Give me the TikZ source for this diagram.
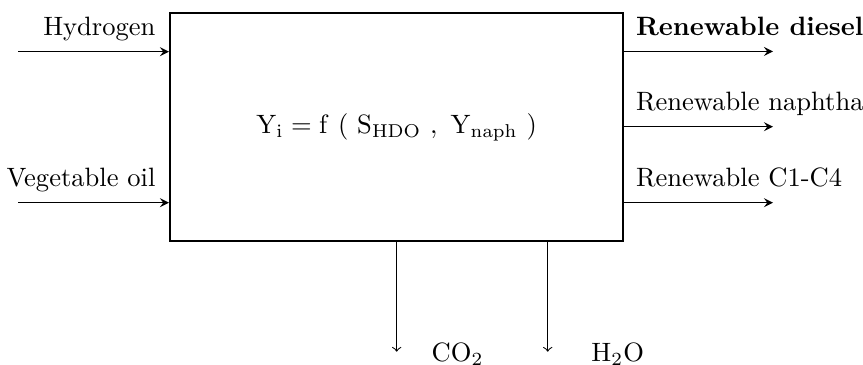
\documentclass[tikz,border=0pt]{standalone}
\usetikzlibrary{arrows,positioning,calc}
\tikzset{
  blk/.style={rectangle,draw,line width=0.8pt,minimum width=6.003cm,minimum height=3.016cm,align=center},
  arr/.style={-stealth,line width=0.5pt},
  darr/.style={->,line width=0.4pt},
  inlbl/.style={anchor=base east,inner sep=0pt,xshift=-4.9pt,yshift=6.1pt},
  outlbl/.style={anchor=base west,inner sep=0pt,xshift=4.2pt,yshift=6.2pt},
  botlbl/.style={anchor=base west,inner sep=0pt,yshift=-3.8pt},
}
\begin{document}
\begin{tikzpicture}[x=1.025cm,y=1.025cm]
  \useasboundingbox (0,0) rectangle (11.15,-4.703);
  \node[blk] (rx) at (5.125,-1.641) {$\mathrm{Y_i} = \mathrm{f}\ (\ \mathrm{S_{HDO}}\ ,\ \mathrm{Y_{naph}}\ )$};
  % feeds
  \coordinate (h2) at (0.236,-0.668);
  \coordinate (vo) at (0.236,-2.619);
  \draw[arr] (h2) -- (h2 -| rx.west);
  \draw[arr] (vo) -- (vo -| rx.west);
  \node[inlbl] (h2l) at (h2 -| rx.west) {Hydrogen};
  \node[inlbl] (vol) at (vo -| rx.west) {Vegetable oil};
  % products
  \coordinate (rd) at (9.987,-0.665);
  \coordinate (rn) at (9.987,-1.637);
  \coordinate (rc) at (9.987,-2.619);
  \draw[arr] (rd -| rx.east) -- (rd);
  \draw[arr] (rn -| rx.east) -- (rn);
  \draw[arr] (rc -| rx.east) -- (rc);
  \node[outlbl] (rdl) at (rd -| rx.east) {\textbf{Renewable diesel}};
  \node[outlbl] (rnl) at (rn -| rx.east) {Renewable naphtha};
  \node[outlbl] (rcl) at (rc -| rx.east) {Renewable C1-C4};
  % by-products
  \coordinate (co) at (5.125,-4.544);
  \coordinate (wt) at (7.076,-4.544);
  \draw[darr] (co |- rx.south) -- (co);
  \draw[darr] (wt |- rx.south) -- (wt);
  \node[botlbl,xshift=13pt] (col) at (co) {CO$_2$};
  \node[botlbl,xshift=16.3pt] (wtl) at (wt) {H$_2$O};
\end{tikzpicture}
\end{document}
